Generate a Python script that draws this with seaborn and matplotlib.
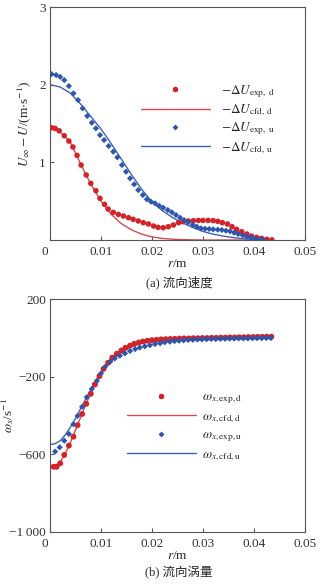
import matplotlib
matplotlib.use("Agg")
import matplotlib.pyplot as plt
import matplotlib.transforms as mtransforms
from matplotlib.lines import Line2D
import seaborn as sns

# ---- (a) streamwise velocity deficit ----
r_exp_d_a = [0.0003, 0.0010, 0.0018, 0.0028, 0.0037, 0.0045, 0.0053, 0.0061, 0.0071, 0.0080,
             0.0090, 0.0098, 0.0107, 0.0114, 0.0124, 0.0134, 0.0144, 0.0154, 0.0163, 0.0173,
             0.0183, 0.0193, 0.0203, 0.0212, 0.0222, 0.0232, 0.0242, 0.0252, 0.0261, 0.0271,
             0.0281, 0.0291, 0.0300, 0.0310, 0.0320, 0.0329, 0.0338, 0.0348, 0.0357, 0.0366,
             0.0376, 0.0386, 0.0395, 0.0405, 0.0415, 0.0425, 0.0435]
du_exp_d = [1.445, 1.437, 1.406, 1.342, 1.274, 1.197, 1.090, 0.965, 0.837, 0.729,
            0.635, 0.536, 0.459, 0.399, 0.356, 0.330, 0.309, 0.287, 0.266, 0.245,
            0.223, 0.206, 0.180, 0.163, 0.158, 0.171, 0.193, 0.223, 0.236, 0.245,
            0.249, 0.252, 0.252, 0.252, 0.250, 0.240, 0.223, 0.206, 0.171, 0.137,
            0.107, 0.077, 0.051, 0.034, 0.021, 0.009, 0.002]

r_cfd_a = [0.0, 0.002, 0.004, 0.006, 0.008, 0.010, 0.012, 0.014, 0.016, 0.018, 0.020,
           0.022, 0.024, 0.026, 0.028, 0.030, 0.032, 0.034, 0.036, 0.038, 0.040, 0.042, 0.043]
du_cfd_d = [1.45, 1.39, 1.26, 0.98, 0.72, 0.50, 0.33, 0.21, 0.13, 0.075, 0.040,
            0.020, 0.010, 0.005, 0.002, 0.0, 0.0, 0.0, 0.0, 0.0, 0.0, 0.0, 0.0]
du_cfd_u = [2.00, 1.97, 1.89, 1.75, 1.59, 1.43, 1.24, 1.04, 0.84, 0.65, 0.49,
            0.38, 0.29, 0.22, 0.16, 0.11, 0.075, 0.05, 0.03, 0.016, 0.007, 0.002, 0.0]

r_exp_u_a = [0.0003, 0.0012, 0.0020, 0.0028, 0.0037, 0.0046, 0.0055, 0.0064, 0.0073, 0.0082,
             0.0090, 0.0098, 0.0106, 0.0115, 0.0124, 0.0132, 0.0141, 0.0149, 0.0157, 0.0165,
             0.0173, 0.0182, 0.0190, 0.0198, 0.0206, 0.0214, 0.0222, 0.0231, 0.0239, 0.0247,
             0.0255, 0.0263, 0.0271, 0.0280, 0.0288, 0.0296, 0.0304, 0.0312, 0.0320, 0.0329,
             0.0337, 0.0345, 0.0353, 0.0361, 0.0369, 0.0378, 0.0386, 0.0394, 0.0402, 0.0410,
             0.0418]
du_exp_u = [2.136, 2.124, 2.100, 2.059, 1.982, 1.888, 1.802, 1.695, 1.596, 1.510,
            1.438, 1.351, 1.287, 1.210, 1.137, 1.064, 0.965, 0.879, 0.794, 0.717,
            0.643, 0.579, 0.524, 0.493, 0.472, 0.441, 0.416, 0.386, 0.356, 0.322,
            0.287, 0.257, 0.228, 0.197, 0.171, 0.150, 0.145, 0.142, 0.137, 0.133,
            0.129, 0.120, 0.112, 0.094, 0.077, 0.060, 0.043, 0.030, 0.017, 0.009,
            0.002]

# ---- (b) streamwise vorticity ----
r_exp_d_b = [0.0007, 0.0013, 0.0020, 0.0028, 0.0037, 0.0046, 0.0054, 0.0063, 0.0071, 0.0080,
             0.0088, 0.0097, 0.0105, 0.0114, 0.0122, 0.0131, 0.0140, 0.0148, 0.0157, 0.0165,
             0.0174, 0.0182, 0.0191, 0.0200, 0.0209, 0.0218, 0.0227, 0.0236, 0.0245, 0.0254,
             0.0263, 0.0272, 0.0281, 0.0290, 0.0299, 0.0308, 0.0317, 0.0326, 0.0335, 0.0344,
             0.0353, 0.0362, 0.0371, 0.0380, 0.0389, 0.0398, 0.0407, 0.0416, 0.0425, 0.0434]
w_exp_d = [-664, -664, -646, -603, -555, -509, -450, -392, -340, -288,
           -240, -197, -160, -128, -102, -82, -65, -51, -40, -31,
           -24, -19, -15, -12, -10, -8, -7, -6, -5, -4,
           -3, -3, -2, -2, -1, -1, 0, 0, 1, 1,
           2, 2, 3, 3, 4, 4, 5, 5, 6, 6]

r_exp_u_b = [0.0010, 0.0019, 0.0028, 0.0037, 0.0046, 0.0054, 0.0063, 0.0072, 0.0082, 0.0092,
             0.0100, 0.0108, 0.0118, 0.0127, 0.0137, 0.0147, 0.0157, 0.0167, 0.0176, 0.0186,
             0.0196, 0.0206, 0.0216, 0.0225, 0.0235, 0.0244, 0.0253, 0.0262, 0.0271, 0.0280,
             0.0289, 0.0298, 0.0307, 0.0316, 0.0325, 0.0334, 0.0343, 0.0352, 0.0361, 0.0370,
             0.0379, 0.0388, 0.0397, 0.0406, 0.0415, 0.0424, 0.0433]
w_exp_u = [-586, -564, -530, -495, -445, -402, -355, -306, -263, -221,
           -183, -149, -123, -106, -92, -80, -68, -58, -50, -44,
           -38, -32, -28, -23, -20, -17, -15, -13, -11, -10,
           -9, -8, -7, -6, -6, -5, -5, -4, -4, -3,
           -3, -3, -2, -2, -2, -1, -1]

r_cfd_b = [0.0, 0.001, 0.002, 0.003, 0.004, 0.005, 0.006, 0.007, 0.008, 0.009, 0.010,
           0.011, 0.012, 0.013, 0.014, 0.015, 0.016, 0.018, 0.020, 0.022, 0.025, 0.030,
           0.035, 0.040, 0.043]
w_cfd_d = [-662, -660, -640, -595, -540, -475, -410, -345, -285, -230, -180,
           -138, -105, -80, -60, -45, -34, -20, -12, -8, -5, -3,
           -1, 0, 0]
w_cfd_u = [-550, -545, -530, -500, -460, -415, -365, -315, -268, -225, -185,
           -150, -120, -95, -75, -58, -45, -28, -17, -11, -7, -4,
           -2, -1, 0]

x_ticks = [0, 0.01, 0.02, 0.03, 0.04, 0.05]
x_ticklabels = ["0", "0.01", "0.02", "0.03", "0.04", "0.05"]
ya_ticks = [1, 2, 3]
ya_ticklabels = ["1", "2", "3"]
yb_ticks = [200, -200, -600, -1000]
yb_ticklabels = ["200", "\u2212200", "\u2212600", "\u22121\u2009000"]

legend_a = [r"$-\Delta U_{\mathrm{exp,\ d}}$", r"$-\Delta U_{\mathrm{cfd,\ d}}$",
            r"$-\Delta U_{\mathrm{exp,\ u}}$", r"$-\Delta U_{\mathrm{cfd,\ u}}$"]
legend_b = [r"$\omega_{x\mathrm{,exp,d}}$", r"$\omega_{x\mathrm{,cfd,d}}$",
            r"$\omega_{x\mathrm{,exp,u}}$", r"$\omega_{x\mathrm{,cfd,u}}$"]

RED = "#d3232a"
RED_LINE = "#dc4a4c"
BLUE = "#2d55ae"
BLUE_LINE = "#3c62b8"
SPINE = "#555555"
FS = 9.5

sns.set_style("ticks")
plt.rcParams["font.family"] = ["Liberation Serif", "Noto Sans CJK SC"]
plt.rcParams["mathtext.fontset"] = "stix"
plt.rcParams["font.size"] = FS
plt.rcParams["axes.edgecolor"] = SPINE
plt.rcParams["axes.linewidth"] = 0.8
plt.rcParams["xtick.color"] = SPINE
plt.rcParams["ytick.color"] = SPINE
plt.rcParams["xtick.labelcolor"] = "#333333"
plt.rcParams["ytick.labelcolor"] = "#333333"

fig = plt.figure(figsize=(3.25, 5.86), dpi=100)
fig.patch.set_facecolor("white")

W, H = 325.0, 586.0
ax_a = fig.add_axes([50 / W, 1 - 240 / H, 255 / W, 233 / H])
ax_b = fig.add_axes([50 / W, 1 - 532 / H, 255 / W, 233 / H])


def style_axes(ax):
    ax.set_xlim(0, 0.05)
    ax.set_xticks(x_ticks)
    ax.set_xticklabels(x_ticklabels)
    ax.tick_params(direction="in", length=3, width=0.8, labelsize=FS)
    ax.tick_params(axis="x", pad=4.5)
    ax.tick_params(axis="y", pad=3)
    for s in ax.spines.values():
        s.set_visible(True)
        s.set_color(SPINE)
    # the origin label sits a little left of the corner
    lab0 = ax.get_xticklabels()[0]
    lab0.set_transform(lab0.get_transform()
                       + mtransforms.ScaledTranslation(-5 / 100, 0, fig.dpi_scale_trans))


# (a)
sns.lineplot(x=r_cfd_a, y=du_cfd_d, ax=ax_a, color=RED_LINE, lw=1.0)
sns.lineplot(x=r_cfd_a, y=du_cfd_u, ax=ax_a, color=BLUE_LINE, lw=1.0)
sns.scatterplot(x=r_exp_d_a, y=du_exp_d, ax=ax_a, color=RED, marker="o", s=16,
                edgecolor="none", zorder=3)
sns.scatterplot(x=r_exp_u_a, y=du_exp_u, ax=ax_a, color=BLUE, marker="D", s=10,
                edgecolor="none", zorder=3)
ax_a.set_ylim(0, 3)
ax_a.set_yticks(ya_ticks)
ax_a.set_yticklabels(ya_ticklabels)
style_axes(ax_a)
ax_a.set_xlabel(r"$r$/m", labelpad=0)
ax_a.set_ylabel(r"$U_{\infty}-U$/(m$\cdot$s$^{-1}$)", fontsize=9.5)
ax_a.yaxis.set_label_coords(-0.068, 0.5)

# (b)
sns.lineplot(x=r_cfd_b, y=w_cfd_d, ax=ax_b, color=RED_LINE, lw=1.0)
sns.lineplot(x=r_cfd_b, y=w_cfd_u, ax=ax_b, color=BLUE_LINE, lw=1.0)
sns.scatterplot(x=r_exp_d_b, y=w_exp_d, ax=ax_b, color=RED, marker="o", s=18,
                edgecolor="none", zorder=3)
sns.scatterplot(x=r_exp_u_b, y=w_exp_u, ax=ax_b, color=BLUE, marker="D", s=10,
                edgecolor="none", zorder=3)
ax_b.set_ylim(-1000, 200)
ax_b.set_yticks(yb_ticks)
ax_b.set_yticklabels(yb_ticklabels)
style_axes(ax_b)
ax_b.set_xlabel(r"$r$/m", labelpad=0)
ax_b.set_ylabel(r"$\omega_x$/s$^{-1}$", fontsize=9.5)
ax_b.yaxis.set_label_coords(-0.135, 0.5)


def handles():
    return [
        Line2D([], [], ls="none", marker="o", ms=4, color=RED, mec="none"),
        Line2D([], [], color=RED_LINE, lw=1.0),
        Line2D([], [], ls="none", marker="D", ms=3, color=BLUE, mec="none"),
        Line2D([], [], color=BLUE_LINE, lw=1.0),
    ]


ax_a.legend(handles(), legend_a, loc="upper left", frameon=False,
            bbox_to_anchor=(141 / W, 1 - 83 / H), bbox_transform=fig.transFigure,
            borderpad=0, borderaxespad=0, handlelength=5.2, handletextpad=0.85,
            labelspacing=0.2, fontsize=FS)
ax_b.legend(handles(), legend_b, loc="upper left", frameon=False,
            bbox_to_anchor=(127 / W, 1 - 391 / H), bbox_transform=fig.transFigure,
            borderpad=0, borderaxespad=0, handlelength=5.2, handletextpad=0.45,
            labelspacing=0.33, fontsize=FS)

fig.text(179 / W, 1 - 282 / H, "(a) 流向速度", ha="center", va="center", fontsize=9)
fig.text(179 / W, 1 - 573 / H, "(b) 流向涡量", ha="center", va="center", fontsize=9)

fig.savefig("out.png", dpi=100, facecolor="white")
